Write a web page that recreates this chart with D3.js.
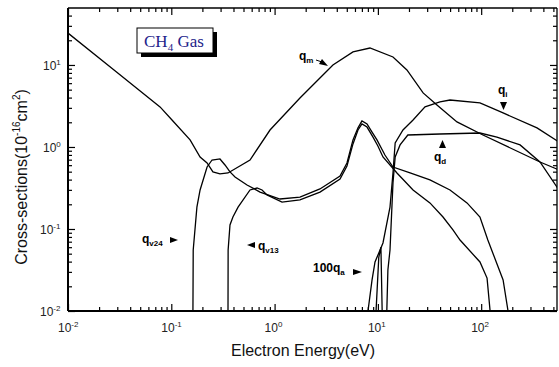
<!DOCTYPE html>
<meta charset="utf-8">
<script src="https://cdn.jsdelivr.net/npm/d3@7"></script>
<style>
body { margin: 0; background: #fff; }
.curve { fill: none; stroke: #000; stroke-width: 1.3px; }
.tick line { stroke: #000; stroke-width: 1.2px; }
.lbl { font-family: Arial, "Liberation Sans", sans-serif; font-weight: bold; font-size: 12px; fill: #000; }
.ticklbl { font-family: Arial, "Liberation Sans", sans-serif; font-size: 12px; fill: #222; }
.title { font-family: Arial, "Liberation Sans", sans-serif; font-size: 16px; fill: #111; }
</style>
<body>
<script>

// ---- data (energy in eV, cross-section in 1e-16 cm^2) ----
var qmE  = [0.01, 0.0279, 0.0778, 0.1016, 0.152, 0.190, 0.222, 0.253, 0.296, 0.354, 0.578, 0.903, 1.76, 3.67, 5.74, 8.38, 14.0, 19.1, 27.4, 37.3, 58.3, 104, 371, 566];
var qmQ  = [24.5, 8.69, 3.08, 2.13, 1.22, 0.755, 0.638, 0.496, 0.469, 0.482, 0.694, 1.61, 3.96, 10, 14.4, 16.1, 12.5, 8.69, 4.56, 3.25, 2.02, 1.40, 0.656, 0.525];

var qv24E = [0.162, 0.163, 0.177, 0.190, 0.222, 0.248, 0.296, 0.331, 0.370, 0.414, 0.541, 0.723, 1.128, 1.76, 2.75, 4.30, 5.02, 5.74, 6.42, 7.01, 7.85, 8.78, 9.80, 11.7, 14.0, 20.5, 31.9, 49.9, 72.9, 97.3, 116, 163, 182];
var qv24Q = [0.01, 0.0555, 0.185, 0.299, 0.570, 0.694, 0.714, 0.603, 0.496, 0.430, 0.344, 0.282, 0.232, 0.245, 0.308, 0.443, 0.638, 1.22, 1.71, 2.08, 1.91, 1.52, 1.22, 0.798, 0.570, 0.482, 0.396, 0.299, 0.208, 0.140, 0.0734, 0.0239, 0.01];

var qv13E = [0.354, 0.355, 0.370, 0.395, 0.443, 0.578, 0.676, 0.756, 0.844, 1.18, 1.76, 2.75, 4.30, 5.02, 5.74, 6.42, 7.01, 7.85, 8.97, 10.0, 11.2, 15.3, 21.9, 31.9, 42.7, 53.3, 62.4, 97.3, 114, 122];
var qv13Q = [0.01, 0.0555, 0.112, 0.140, 0.185, 0.299, 0.316, 0.299, 0.260, 0.213, 0.226, 0.282, 0.407, 0.586, 1.09, 1.61, 1.91, 1.75, 1.32, 1.03, 0.755, 0.482, 0.299, 0.208, 0.140, 0.0973, 0.0734, 0.0396, 0.0252, 0.01];

var qiE = [8.02, 8.78, 9.38, 10.5, 11.2, 13.1, 14.0, 14.7, 17.5, 21.9, 28.6, 39.9, 49.9, 97.3, 163, 347, 566];
var qiQ = [0.01, 0.0239, 0.0396, 0.0555, 0.0675, 0.185, 0.482, 1.12, 1.61, 2.13, 3.08, 3.54, 3.74, 3.44, 2.60, 1.71, 1.15];

var qdE = [12.2, 12.5, 13.1, 14.0, 14.7, 16.4, 19.5, 39.9, 97.3, 142, 238, 371, 566];
var qdQ = [0.01, 0.0316, 0.0555, 0.364, 0.755, 1.06, 1.40, 1.44, 1.48, 1.32, 1.06, 0.656, 0.299];

var qaE = [9.6, 10.2, 10.7, 11.0];
var qaQ = [0.01, 0.045, 0.06, 0.01];

var xTickExps = [-2, -1, 0, 1, 2];
var yTickExps = [-2, -1, 0, 1];

// ---- layout ----
var W = 559, H = 367;
var pL = 68, pR = 557, pT = 8, pB = 311;

var x = d3.scaleLog().domain([0.01, 542]).range([pL, pR]);
var y = d3.scaleLog().domain([0.01, 49.5]).range([pB, pT]);

var svg = d3.select("body").append("svg")
    .attr("width", W)
    .attr("height", H);

svg.append("defs").append("clipPath").attr("id", "plot")
  .append("rect")
    .attr("x", pL).attr("y", pT)
    .attr("width", pR - pL).attr("height", pB - pT);

// major / minor tick values
function majors(exps) { return exps.map(function(e) { return Math.pow(10, e); }); }
function minors(lo, hi) {
  var out = [];
  for (var e = lo; e <= hi; e++)
    for (var m = 2; m <= 9; m++) out.push(m * Math.pow(10, e));
  return out;
}
var xMinor = minors(-2, 2).filter(function(v) { return v <= 542; });
var xMajor = majors(xTickExps);
var yMinor = minors(-2, 1).filter(function(v) { return v <= 49.5; });
var yMajor = majors(yTickExps);

function addAxis(gen, transform, vals, size) {
  var g = svg.append("g")
      .attr("transform", transform)
      .call(gen.tickValues(vals).tickSize(size).tickSizeOuter(0).tickFormat(""));
  g.select(".domain").remove();
  return g;
}

// bottom & top
addAxis(d3.axisBottom(x), "translate(0," + pB + ")", xMajor, -7);
addAxis(d3.axisBottom(x), "translate(0," + pB + ")", xMinor, -4);
addAxis(d3.axisTop(x), "translate(0," + pT + ")", xMajor, -7);
addAxis(d3.axisTop(x), "translate(0," + pT + ")", xMinor, -4);
// left & right
addAxis(d3.axisLeft(y), "translate(" + pL + ",0)", yMajor, -7);
addAxis(d3.axisLeft(y), "translate(" + pL + ",0)", yMinor, -4);
addAxis(d3.axisRight(y), "translate(" + pR + ",0)", yMajor, -7);
addAxis(d3.axisRight(y), "translate(" + pR + ",0)", yMinor, -4);

// frame
svg.append("line").attr("x1", pL).attr("x2", pR).attr("y1", pT).attr("y2", pT)
    .attr("stroke", "#000").attr("stroke-width", 1.3);
svg.append("line").attr("x1", pR).attr("x2", pR).attr("y1", pT).attr("y2", pB)
    .attr("stroke", "#000").attr("stroke-width", 1.3);
svg.append("line").attr("x1", pL).attr("x2", pR).attr("y1", pB).attr("y2", pB)
    .attr("stroke", "#000").attr("stroke-width", 2);
svg.append("line").attr("x1", pL).attr("x2", pL).attr("y1", pT).attr("y2", pB)
    .attr("stroke", "#000").attr("stroke-width", 2);

// tick labels with superscripts
function pow10(sel, e) {
  sel.append("tspan").text("10");
  sel.append("tspan").attr("dy", -5).attr("font-size", 8).text(e);
}
xTickExps.forEach(function(e) {
  var t = svg.append("text").attr("class", "ticklbl")
      .attr("x", x(Math.pow(10, e)) - 10).attr("y", 332);
  pow10(t, e);
});
yTickExps.forEach(function(e) {
  var t = svg.append("text").attr("class", "ticklbl")
      .attr("x", pL - (e < 0 ? 28 : 25)).attr("y", y(Math.pow(10, e)) + 5);
  pow10(t, e);
});

// axis titles
svg.append("text").attr("class", "title")
    .attr("x", 303).attr("y", 356).attr("text-anchor", "middle")
    .text("Electron Energy(eV)");

var yt = svg.append("text").attr("class", "title")
    .attr("transform", "translate(27,177) rotate(-90)")
    .attr("text-anchor", "middle");
yt.append("tspan").text("Cross-sections(10");
yt.append("tspan").attr("dy", -7).attr("font-size", 10).text("-16");
yt.append("tspan").attr("dy", 7).text("cm");
yt.append("tspan").attr("dy", -7).attr("font-size", 10).text("2");
yt.append("tspan").attr("dy", 7).text(")");

// curves
var line = d3.line()
    .x(function(d) { return x(d[0]); })
    .y(function(d) { return y(d[1]); });

var curves = [[qmE, qmQ], [qv24E, qv24Q], [qv13E, qv13Q], [qiE, qiQ], [qdE, qdQ], [qaE, qaQ]];
var cg = svg.append("g").attr("clip-path", "url(#plot)");
curves.forEach(function(c) {
  cg.append("path")
      .datum(d3.zip(c[0], c[1]))
      .attr("class", "curve")
      .attr("d", line);
});

// legend box
svg.append("rect").attr("x", 141).attr("y", 32).attr("width", 76).attr("height", 25).attr("fill", "#000");
svg.append("rect").attr("x", 137).attr("y", 28).attr("width", 76).attr("height", 25)
    .attr("fill", "#fff").attr("stroke", "#000").attr("stroke-width", 1);
var lg = svg.append("text")
    .attr("x", 144).attr("y", 47)
    .attr("font-family", "'Liberation Serif', 'Times New Roman', serif")
    .attr("font-size", 17).attr("fill", "#23238a");
lg.append("tspan").text("CH");
lg.append("tspan").attr("dy", 4).attr("font-size", 11).text("4");
lg.append("tspan").attr("dy", -4).text(" Gas");

// curve labels
function qlabel(xp, yp, main, sub) {
  var t = svg.append("text").attr("class", "lbl").attr("x", xp).attr("y", yp);
  t.append("tspan").text(main);
  t.append("tspan").attr("dy", 3).attr("font-size", 8).text(sub);
  return t;
}
function tri(pts) {
  svg.append("path").attr("d", "M" + pts.join("L") + "Z").attr("fill", "#000");
}

qlabel(299, 60, "q", "m");
svg.append("line").attr("x1", 316).attr("y1", 60).attr("x2", 322).attr("y2", 62).attr("stroke", "#000");
tri([[328, 66], [319, 64], [322, 59]]);

qlabel(498, 94, "q", "i");
tri([[500, 102], [507, 102], [503.5, 110]]);

qlabel(434, 161, "q", "d");
tri([[439, 148], [446, 148], [442.5, 140]]);

qlabel(142, 243, "q", "v24");
tri([[170, 237], [170, 243], [178, 240]]);

tri([[255, 242], [255, 248], [247, 245]]);
qlabel(258, 250, "q", "v13");

qlabel(313, 272, "100q", "a");
tri([[353, 269], [353, 275], [362, 272]]);

</script>
</body>
